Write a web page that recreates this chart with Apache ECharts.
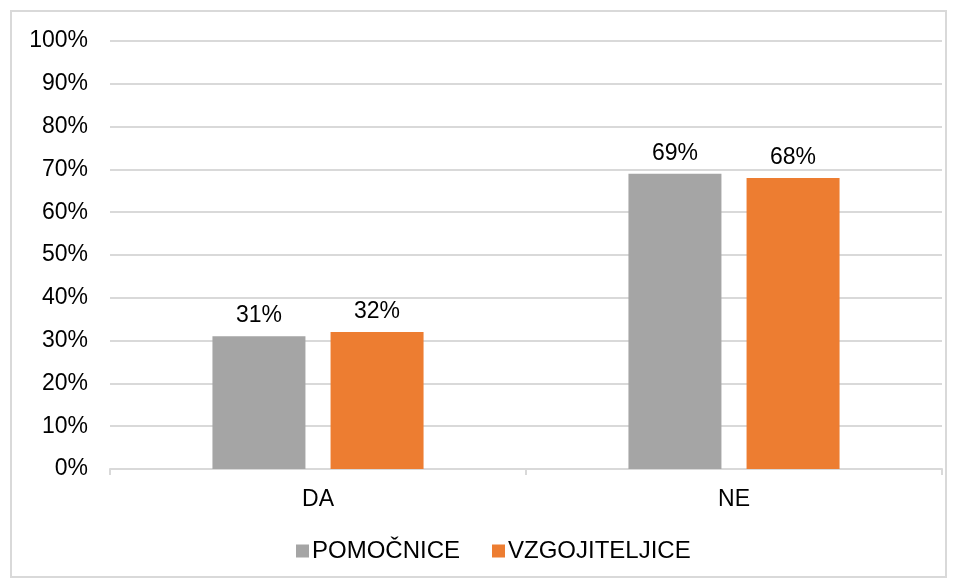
<!DOCTYPE html>
<html>
<head>
<meta charset="utf-8">
<script src="https://cdn.jsdelivr.net/npm/echarts@6/dist/echarts.min.js"></script>
<style>
  body { margin: 0; background: #fff; }
  #chart { width: 958px; height: 580px; }
  #frame { position: absolute; left: 10px; top: 10px; width: 937px; height: 568px; border: 2px solid #d9d9d9; box-sizing: border-box; pointer-events: none; }
</style>
</head>
<body>
<div id="chart"></div>
<div id="frame"></div>
<script>
var categories = ['DA', 'NE']
var pomocnice = [31, 69]
var vzgojiteljice = [32, 68]
var yTicks = [0, 10, 20, 30, 40, 50, 60, 70, 80, 90, 100]

var chart = echarts.init(document.getElementById('chart'))
var font = 'Liberation Sans, Arial, sans-serif'

let option = {
    animation: false,
    grid: { left: 110, right: 16, top: 41, bottom: 111 },
    legend: {
        bottom: 17,
        left: 296,
        padding: 0,
        itemWidth: 13,
        itemHeight: 13,
        itemGap: 32,
        icon: 'rect',
        textStyle: { color: '#000', fontSize: 24, fontFamily: font, padding: [0, 0, 0, -2] },
        data: ['POMOČNICE', 'VZGOJITELJICE']
    },
    xAxis: {
        type: 'category',
        data: categories,
        axisLine: { lineStyle: { color: '#d9d9d9', width: 2 } },
        axisTick: { show: true, length: 6, lineStyle: { color: '#d9d9d9', width: 2 } },
        axisLabel: { color: '#000', fontSize: 23, fontFamily: font, margin: 19 }
    },
    yAxis: {
        type: 'value',
        min: 0,
        max: 100,
        interval: 10,
        axisLine: { show: false },
        axisTick: { show: false },
        splitLine: { lineStyle: { color: '#d9d9d9', width: 2 } },
        axisLabel: {
            color: '#000', fontSize: 23, fontFamily: font, margin: 22,
            formatter: function (v) { return yTicks.indexOf(v) >= 0 ? v + '%' : '' }
        }
    },
    series: [
        {
            name: 'POMOČNICE',
            type: 'bar',
            data: pomocnice,
            barWidth: 93,
            barGap: '27%',
            itemStyle: { color: '#a5a5a5' },
            label: { show: true, position: 'top', distance: 9, color: '#000', fontSize: 23, fontFamily: font, formatter: '{c}%' }
        },
        {
            name: 'VZGOJITELJICE',
            type: 'bar',
            data: vzgojiteljice,
            barWidth: 93,
            itemStyle: { color: '#ed7d31' },
            label: { show: true, position: 'top', distance: 9, color: '#000', fontSize: 23, fontFamily: font, formatter: '{c}%' }
        }
    ]
}
chart.setOption(option)
</script>
</body>
</html>
